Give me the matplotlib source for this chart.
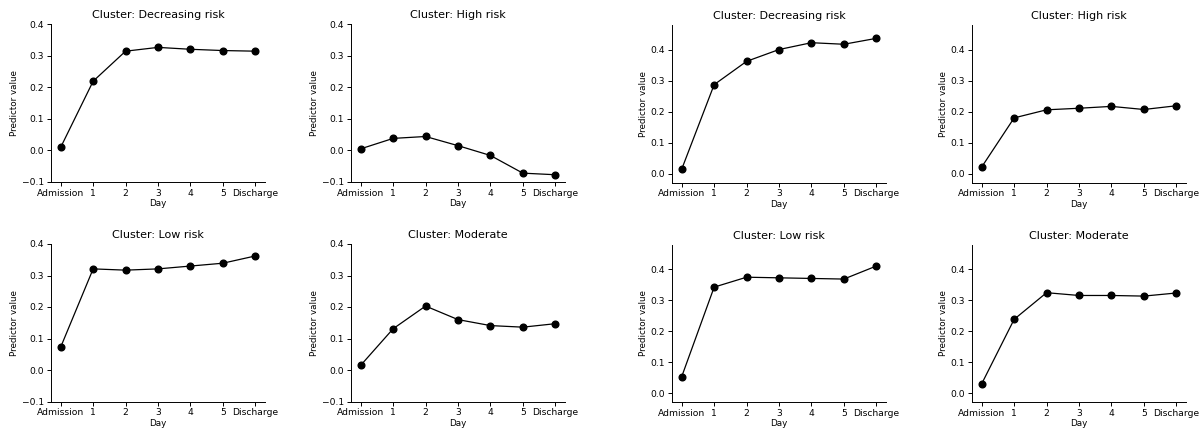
import matplotlib
matplotlib.use("Agg")
import matplotlib.pyplot as plt

# x categories shared by every panel
days = ["Admission", "1", "2", "3", "4", "5", "Discharge"]

# left block of four panels
left_titles = ["Decreasing risk", "High risk", "Low risk", "Moderate"]
left_decreasing = [0.010, 0.219, 0.314, 0.326, 0.320, 0.316, 0.314]
left_high = [0.005, 0.038, 0.044, 0.015, -0.016, -0.072, -0.077]
left_low = [0.073, 0.321, 0.317, 0.321, 0.330, 0.339, 0.362]
left_moderate = [0.015, 0.131, 0.203, 0.160, 0.141, 0.136, 0.147]

# right block of four panels
right_titles = ["Decreasing risk", "High risk", "Low risk", "Moderate"]
right_decreasing = [0.015, 0.287, 0.362, 0.400, 0.422, 0.417, 0.436]
right_high = [0.022, 0.180, 0.206, 0.211, 0.217, 0.207, 0.219]
right_low = [0.054, 0.343, 0.375, 0.373, 0.371, 0.369, 0.411]
right_moderate = [0.031, 0.239, 0.325, 0.316, 0.316, 0.314, 0.324]

W, H = 1203, 430
fig = plt.figure(figsize=(W / 100, H / 100), dpi=100)

# axes boxes in pixels: column left edges, (top, bottom) per row
col_x = [51, 351, 672, 972]
row_y = [(24, 182), (244, 401.5)]
aw = 214


def panel(x0, top, bottom, title, vals, ylim, yticks):
    ax = fig.add_axes([x0 / W, 1 - bottom / H, aw / W, (bottom - top) / H])
    ax.plot(range(len(days)), vals, "-o", color="black", lw=0.9, ms=4.8)
    ax.set_xticks(range(len(days)))
    ax.set_xticklabels(days)
    ax.set_ylim(*ylim)
    ax.set_yticks(yticks)
    ax.set_title("Cluster: " + title, fontsize=8, pad=4)
    ax.set_xlabel("Day", fontsize=6.3, labelpad=1)
    ax.set_ylabel("Predictor value", fontsize=6.3, labelpad=2)
    ax.tick_params(labelsize=6.6, length=3, width=0.7, pad=2)
    for s in ("top", "right"):
        ax.spines[s].set_visible(False)
    for s in ("left", "bottom"):
        ax.spines[s].set_linewidth(0.7)
    return ax


left_vals = [left_decreasing, left_high, left_low, left_moderate]
right_vals = [right_decreasing, right_high, right_low, right_moderate]
left_ticks = [-0.1, 0.0, 0.1, 0.2, 0.3, 0.4]
right_ticks = [0.0, 0.1, 0.2, 0.3, 0.4]

for i in range(4):
    r, c = divmod(i, 2)
    top, bottom = row_y[r]
    panel(col_x[c], top, bottom, left_titles[i], left_vals[i], (-0.1, 0.4), left_ticks)
    panel(col_x[c + 2], top + 1, bottom + 0.5, right_titles[i], right_vals[i],
          (-0.028, 0.479), right_ticks)

fig.savefig("out.png", dpi=100)
